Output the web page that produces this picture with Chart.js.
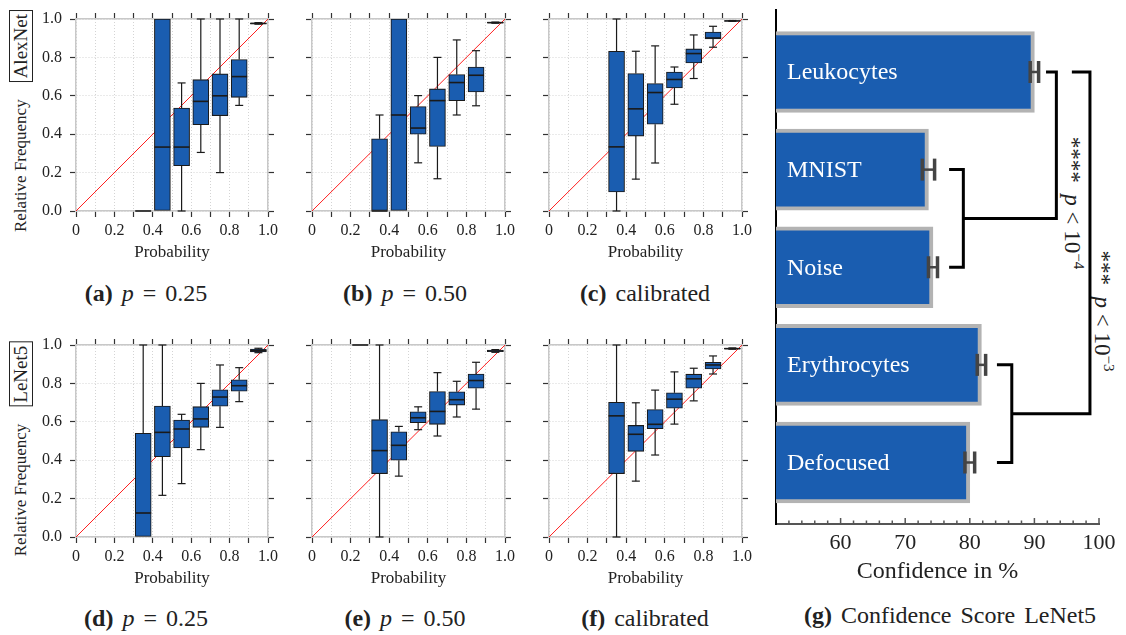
<!DOCTYPE html>
<html>
<head>
<meta charset="utf-8">
<script src="https://cdn.jsdelivr.net/npm/chart.js@4.4.1/dist/chart.umd.min.js"></script>
<style>
  body{margin:0;background:#fff;width:1126px;height:635px;position:relative;overflow:hidden;font-family:'Liberation Serif',serif;color:#222}
  canvas{position:absolute}
  .cap{position:absolute;transform:translate(-50%,-50%);font-family:'Liberation Serif',serif;font-size:24px;white-space:nowrap;word-spacing:3px}
  .rot{position:absolute;transform:translate(-50%,-50%) rotate(-90deg);white-space:nowrap;display:flex;align-items:center;font-family:'Liberation Serif',serif}
  .box{border:1.3px solid #222;padding:0 3px;font-size:19px;line-height:22px}
  .rf{font-size:17px;margin-right:17px}
  .sig{position:absolute;transform:translate(-50%,-50%) rotate(90deg);white-space:nowrap;font-family:'Liberation Serif',serif;font-size:23px}
  .sig sup{font-size:15px}
</style>
</head>
<body>

<div class="rot" style="left:21px;top:121px"><span class="rf">Relative Frequency</span><span class="box">AlexNet</span></div>
<div class="rot" style="left:21px;top:449px"><span class="rf">Relative Frequency</span><span class="box">LeNet5</span></div>

<div class="cap" style="left:146px;top:293px"><b>(a)</b> <i>p</i> = 0.25</div>
<div class="cap" style="left:405px;top:293px"><b>(b)</b> <i>p</i> = 0.50</div>
<div class="cap" style="left:645px;top:293px"><b>(c)</b> calibrated</div>
<div class="cap" style="left:146px;top:618px"><b>(d)</b> <i>p</i> = 0.25</div>
<div class="cap" style="left:405px;top:618px"><b>(e)</b> <i>p</i> = 0.50</div>
<div class="cap" style="left:645px;top:618px"><b>(f)</b> calibrated</div>
<div class="cap" style="left:950px;top:615px"><b>(g)</b> Confidence Score LeNet5</div>

<div class="sig" style="left:1073px;top:203px">****&nbsp;&nbsp;<i>p</i> &lt; 10<sup>−4</sup></div>
<div class="sig" style="left:1103px;top:311px">***&nbsp;&nbsp;<i>p</i> &lt; 10<sup>−3</sup></div>

<script>
// ---- reliability box plots: bin centres + [min, q1, median, q3, max] per bin ----
const binsStd = [0.35, 0.45, 0.55, 0.65, 0.75, 0.85, 0.95];
const binsE   = [0.25, 0.35, 0.45, 0.55, 0.65, 0.75, 0.85, 0.95];

const alexP25 = [
  [0, 0, 0, 0, 0],
  [0, 0, 0.333, 1, 1],
  [0, 0.236, 0.333, 0.536, 0.667],
  [0.305, 0.449, 0.571, 0.684, 1],
  [0.2, 0.497, 0.6, 0.714, 1],
  [0.55, 0.592, 0.70, 0.789, 1],
  [0.973, 0.975, 0.977, 0.979, 0.981]
];
const alexP50 = [
  [0, 0, 0, 0.376, 0.5],
  [0, 0, 0.5, 1, 1],
  [0.251, 0.4, 0.432, 0.544, 0.601],
  [0.168, 0.336, 0.575, 0.636, 0.8],
  [0.5, 0.574, 0.669, 0.711, 0.891],
  [0.548, 0.62, 0.707, 0.75, 0.835],
  [0.978, 0.979, 0.981, 0.983, 0.984]
];
const alexCal = [
  [0, 0.099, 0.334, 0.832, 1],
  [0.166, 0.39, 0.532, 0.716, 0.832],
  [0.25, 0.452, 0.617, 0.664, 0.86],
  [0.556, 0.641, 0.685, 0.724, 0.75],
  [0.69, 0.771, 0.82, 0.844, 0.917],
  [0.853, 0.896, 0.901, 0.932, 0.962],
  [0.988, 0.989, 0.99, 0.991, 0.992]
];
const lenetP25 = [
  [0, 0, 0.125, 0.54, 1],
  [0.217, 0.418, 0.545, 0.682, 1],
  [0.278, 0.464, 0.5625, 0.609, 0.639],
  [0.455, 0.571, 0.615, 0.679, 0.8],
  [0.571, 0.681, 0.729, 0.767, 0.896],
  [0.705, 0.759, 0.788, 0.819, 0.882],
  [0.96, 0.964, 0.97, 0.979, 0.983]
];
const lenetP50 = [
  [1, 1, 1, 1, 1],
  [0, 0.33, 0.45, 0.611, 1],
  [0.317, 0.4, 0.4775, 0.548, 0.576],
  [0.559, 0.595, 0.621, 0.652, 0.678],
  [0.526, 0.587, 0.654, 0.758, 0.856],
  [0.625, 0.687, 0.715, 0.756, 0.811],
  [0.666, 0.775, 0.815, 0.849, 0.91],
  [0.962, 0.965, 0.969, 0.973, 0.976]
];
const lenetCal = [
  [0, 0.33, 0.631, 0.702, 1],
  [0.291, 0.446, 0.535, 0.581, 0.699],
  [0.427, 0.564, 0.587, 0.664, 0.765],
  [0.588, 0.671, 0.718, 0.751, 0.86],
  [0.709, 0.775, 0.824, 0.848, 0.879],
  [0.849, 0.875, 0.896, 0.91, 0.943],
  [0.978, 0.979, 0.981, 0.983, 0.985]
];

// ---- confidence bar chart ----
const confClasses = ['Leukocytes', 'MNIST', 'Noise', 'Erythrocytes', 'Defocused'];
const confValues  = [90.0, 73.6, 74.3, 81.8, 80.0];
const confErr     = [0.65, 0.95, 0.7, 0.65, 0.75];

Chart.defaults.font.family = "'Liberation Serif', serif";
Chart.defaults.color = '#222';

const BLUE = '#1a5db0';
const BOX_W = 16;

// force axis box sizes so the plot areas land where the figure has them
function fixSize(px){
  return s => {
    if (s.isHorizontal()) s.height = px; else s.width = px;
    s.paddingLeft = s.paddingRight = s.paddingTop = s.paddingBottom = 0;
  };
}

function seg(ctx, x1, y1, x2, y2){ ctx.beginPath(); ctx.moveTo(x1, y1); ctx.lineTo(x2, y2); ctx.stroke(); }

// whiskers, caps and medians on top of the floating-bar boxes
const boxPlugin = {
  id: 'boxExtras',
  afterDatasetsDraw(chart){
    const ds = chart.data.datasets[0];
    const x = chart.scales.x, y = chart.scales.y, ctx = chart.ctx;
    ctx.save();
    ctx.strokeStyle = '#1a1a1a';
    ds.stats.forEach((s, i) => {
      const cx = x.getPixelForValue(ds.bins[i]);
      const [mn, q1, md, q3, mx] = s;
      ctx.lineWidth = 1.2;
      if (mx > q3) {
        seg(ctx, cx, y.getPixelForValue(q3), cx, y.getPixelForValue(mx));
        seg(ctx, cx - 4, y.getPixelForValue(mx), cx + 4, y.getPixelForValue(mx));
      }
      if (mn < q1) {
        seg(ctx, cx, y.getPixelForValue(q1), cx, y.getPixelForValue(mn));
        seg(ctx, cx - 4, y.getPixelForValue(mn), cx + 4, y.getPixelForValue(mn));
      }
      ctx.lineWidth = 1.6;
      seg(ctx, cx - BOX_W / 2, y.getPixelForValue(md), cx + BOX_W / 2, y.getPixelForValue(md));
    });
    ctx.restore();
  }
};

function xLabel(v){
  const k = Math.round(v * 10);
  if (k === 0) return '0';
  return k % 2 === 0 ? (k / 10).toFixed(1) : '';
}

function panelScales(showY){
  const tickFont = {size: 16};
  const gridOpts = {offset: false, color: '#d4d4d4', lineWidth: 1, tickColor: '#333', tickLength: 6, tickWidth: 1.2};
  const border = {color: '#c8c8c8', width: 1.5, dash: [1, 2]};
  const mirrorGrid = {offset: false, drawOnChartArea: false, tickColor: '#333', tickLength: 6, tickWidth: 1.2};
  return {
    x: {type: 'linear', position: 'bottom', min: 0, max: 1, offset: false,
        ticks: {stepSize: 0.1, autoSkip: false, maxRotation: 0, padding: 4, font: tickFont, color: '#222', callback: xLabel},
        grid: gridOpts, border: border,
        title: {display: true, text: 'Probability', font: {size: 17}, color: '#222', padding: {top: 0, bottom: 10}},
        afterFit: fixSize(62)},
    y: {type: 'linear', position: 'left', min: 0, max: 1, offset: false,
        ticks: {stepSize: 0.2, padding: 8, font: tickFont, color: '#222', callback: v => showY ? v.toFixed(1) : ''},
        grid: gridOpts, border: border,
        afterFit: fixSize(60)},
    x2: {type: 'linear', axis: 'x', position: 'top', min: 0, max: 1, offset: false,
        ticks: {stepSize: 0.1, autoSkip: false, maxRotation: 0, callback: () => ''},
        grid: mirrorGrid, border: {color: '#c8c8c8', width: 1.5},
        afterFit: fixSize(12)},
    y2: {type: 'linear', axis: 'y', position: 'right', min: 0, max: 1, offset: false,
        ticks: {stepSize: 0.2, callback: () => ''},
        grid: mirrorGrid, border: {color: '#c8c8c8', width: 1.5},
        afterFit: fixSize(14)}
  };
}

const panels = [
  {L: 76,  T: 19,  R: 268, B: 211, bins: binsStd, stats: alexP25,  showY: true},
  {L: 312, T: 19,  R: 505, B: 211, bins: binsStd, stats: alexP50,  showY: false},
  {L: 549, T: 19,  R: 742, B: 211, bins: binsStd, stats: alexCal,  showY: false},
  {L: 76,  T: 345, R: 268, B: 537, bins: binsStd, stats: lenetP25, showY: true},
  {L: 312, T: 345, R: 505, B: 537, bins: binsE,   stats: lenetP50, showY: false},
  {L: 549, T: 345, R: 742, B: 537, bins: binsStd, stats: lenetCal, showY: false}
];

panels.forEach(p => {
  const c = document.createElement('canvas');
  c.width = (p.R - p.L) + 60 + 14;
  c.height = (p.B - p.T) + 12 + 62;
  c.style.left = (p.L - 60) + 'px';
  c.style.top = (p.T - 12) + 'px';
  document.body.appendChild(c);
  new Chart(c, {
    type: 'bar',
    data: {
      datasets: [
        {type: 'bar', order: 0, bins: p.bins, stats: p.stats,
         data: p.bins.map((b, i) => ({x: b, y: [p.stats[i][1], p.stats[i][3]]})),
         backgroundColor: BLUE, borderColor: '#1a1a1a', borderWidth: 1.1, borderSkipped: false, barThickness: BOX_W},
        {type: 'line', order: 1, data: [{x: 0, y: 0}, {x: 1, y: 1}],
         borderColor: '#ff2020', borderWidth: 1, pointRadius: 0, fill: false}
      ]
    },
    options: {
      responsive: false, animation: false, events: [],
      layout: {padding: 0},
      plugins: {legend: {display: false}, tooltip: {enabled: false}},
      scales: panelScales(p.showY)
    },
    plugins: [boxPlugin]
  });
});

// ---- (g) confidence score bars ----
const brackets = [
  {yA: 1, xA: 76.8, yB: 2,   xB: 76.8, xV: 79.0},
  {yA: 3, xA: 84.2, yB: 4,   xB: 84.2, xV: 86.5},
  {yA: 0, xA: 91.8, yB: 1.5, xB: 79.0, xV: 93.4},
  {yA: 0, xA: 95.8, yB: 3.5, xB: 86.5, xV: 98.6}
];

const confPlugin = {
  id: 'confExtras',
  afterDatasetsDraw(chart){
    const x = chart.scales.x, y = chart.scales.y, ctx = chart.ctx, area = chart.chartArea;
    ctx.save();
    // class names inside bars
    ctx.fillStyle = '#fff';
    ctx.font = "24px 'Liberation Serif', serif";
    ctx.textBaseline = 'middle';
    confClasses.forEach((name, i) => ctx.fillText(name, area.left + 11, y.getPixelForValue(i) + 1));
    // error bars
    ctx.strokeStyle = '#444';
    confValues.forEach((v, i) => {
      const yc = y.getPixelForValue(i);
      const xl = x.getPixelForValue(v - confErr[i]), xr = x.getPixelForValue(v + confErr[i]);
      ctx.lineWidth = 2.5; seg(ctx, xl, yc, xr, yc);
      ctx.lineWidth = 3.5; seg(ctx, xl, yc - 11, xl, yc + 11); seg(ctx, xr, yc - 11, xr, yc + 11);
    });
    // significance brackets
    ctx.strokeStyle = '#000';
    ctx.lineWidth = 3;
    ctx.lineJoin = 'miter';
    brackets.forEach(b => {
      ctx.beginPath();
      ctx.moveTo(x.getPixelForValue(b.xA), y.getPixelForValue(b.yA));
      ctx.lineTo(x.getPixelForValue(b.xV), y.getPixelForValue(b.yA));
      ctx.lineTo(x.getPixelForValue(b.xV), y.getPixelForValue(b.yB));
      ctx.lineTo(x.getPixelForValue(b.xB), y.getPixelForValue(b.yB));
      ctx.stroke();
    });
    // inward ticks on the bottom axis
    ctx.strokeStyle = '#555';
    ctx.lineWidth = 1.5;
    x.ticks.forEach(t => {
      if (t.value <= 50) return;
      const px = x.getPixelForValue(t.value);
      const len = t.value % 10 === 0 ? 6 : 3.5;
      seg(ctx, px, area.bottom, px, area.bottom - len);
    });
    ctx.restore();
  }
};

const cg = document.createElement('canvas');
cg.width = 426; cg.height = 600;
cg.style.left = '700px'; cg.style.top = '0px';
document.body.appendChild(cg);
new Chart(cg, {
  type: 'bar',
  data: {
    datasets: [{
      data: confValues.map((v, i) => ({x: v, y: i})),
      backgroundColor: BLUE, borderColor: '#b3b3b3', borderWidth: 4, borderSkipped: false, barThickness: 81
    }]
  },
  options: {
    indexAxis: 'y', responsive: false, animation: false, events: [],
    layout: {padding: {top: 10, right: 27, left: 0, bottom: 0}},
    plugins: {legend: {display: false}, tooltip: {enabled: false}},
    scales: {
      x: {type: 'linear', min: 50, max: 100, offset: false,
          ticks: {stepSize: 2, autoSkip: false, maxRotation: 0, padding: 6, font: {size: 22}, color: '#222',
                  callback: v => (v >= 60 && v % 10 === 0) ? String(v) : ''},
          grid: {offset: false, drawOnChartArea: false, drawTicks: false},
          border: {color: '#555', width: 2},
          title: {display: true, text: 'Confidence in %', font: {size: 24}, color: '#222', padding: {top: 0, bottom: 14}},
          afterFit: fixSize(76)},
      y: {type: 'linear', min: -0.635, max: 4.63, reverse: true, offset: false,
          ticks: {display: false},
          grid: {display: false, offset: false},
          border: {color: '#000', width: 2},
          afterFit: fixSize(76)}
    }
  },
  plugins: [confPlugin]
});
</script>
</body>
</html>
